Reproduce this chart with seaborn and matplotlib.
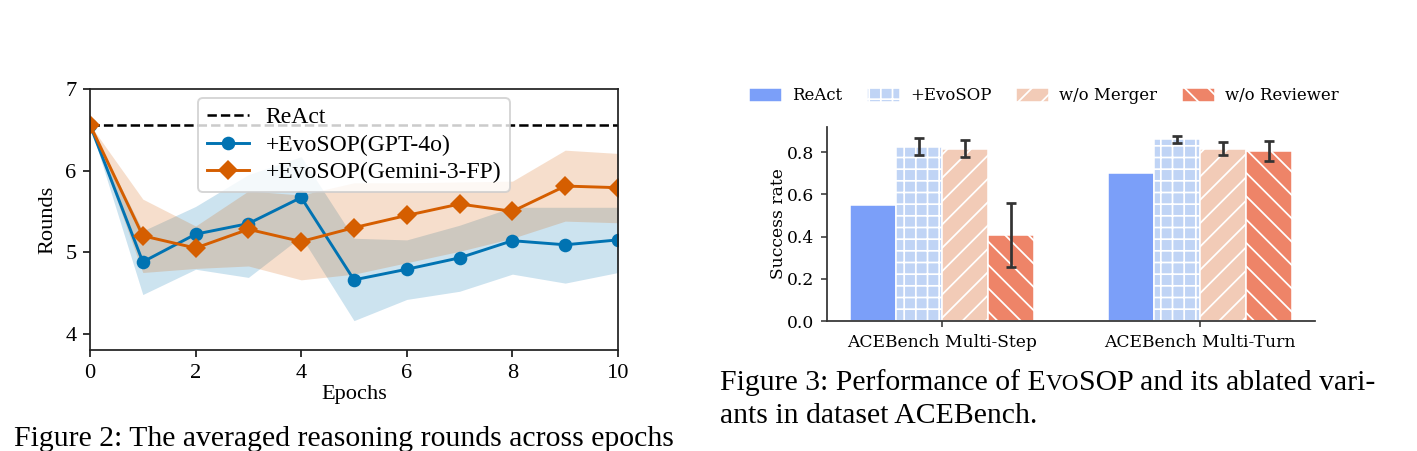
import numpy as np
import pandas as pd
import matplotlib
matplotlib.use("Agg")
import matplotlib.pyplot as plt
import seaborn as sns

# ---------------- data: Figure 2 (left) ----------------
epochs = [0, 1, 2, 3, 4, 5, 6, 7, 8, 9, 10]
react_rounds = 6.56
gpt_mean = [6.56, 4.88, 5.22, 5.35, 5.67, 4.66, 4.79, 4.93, 5.14, 5.09, 5.15]
gpt_low = [6.56, 4.48, 4.79, 4.69, 5.19, 4.16, 4.42, 4.52, 4.73, 4.62, 4.75]
gpt_high = [6.56, 5.26, 5.56, 5.95, 6.17, 5.17, 5.15, 5.33, 5.55, 5.55, 5.55]
gem_mean = [6.56, 5.20, 5.05, 5.28, 5.13, 5.30, 5.45, 5.59, 5.50, 5.81, 5.79]
gem_low = [6.56, 4.75, 4.80, 4.83, 4.66, 4.73, 4.87, 5.01, 5.17, 5.38, 5.36]
gem_high = [6.56, 5.65, 5.32, 5.75, 5.70, 5.85, 5.85, 5.86, 5.87, 6.25, 6.21]
series_names = ["+EvoSOP(GPT-4o)", "+EvoSOP(Gemini-3-FP)"]

# ---------------- data: Figure 3 (right) ----------------
datasets = ["ACEBench Multi-Step", "ACEBench Multi-Turn"]
methods = ["ReAct", "+EvoSOP", "w/o Merger", "w/o Reviewer"]
react_vals = [0.55, 0.70]
evosop_vals = [0.827, 0.861]
merger_vals = [0.818, 0.818]
reviewer_vals = [0.408, 0.805]
react_err = [0.0, 0.0]
evosop_err = [0.041, 0.016]
merger_err = [0.041, 0.029]
reviewer_err = [0.150, 0.047]

DPI = 140
fig = plt.figure(figsize=(1417 / DPI, 451 / DPI), dpi=DPI)
plt.rcParams["hatch.linewidth"] = 0.9

# ================= left chart =================
serif_l = ["Liberation Serif", "DejaVu Serif"]
fs_l = 11.5
axL = fig.add_axes([90 / 1417, 1 - 350 / 451, 528 / 1417, 261 / 451])
blue = "#0173b2"
orange = "#d55e00"

axL.fill_between(epochs, gpt_low, gpt_high, color=blue, alpha=0.2, linewidth=0)
axL.fill_between(epochs, gem_low, gem_high, color=orange, alpha=0.2, linewidth=0)
axL.axhline(react_rounds, color="black", linestyle="--", linewidth=1.3, label="ReAct")

df_l = pd.DataFrame({
    "Epochs": epochs * 2,
    "Rounds": gpt_mean + gem_mean,
    "model": [series_names[0]] * len(epochs) + [series_names[1]] * len(epochs),
})
sns.lineplot(data=df_l, x="Epochs", y="Rounds", hue="model", style="model",
             hue_order=series_names, style_order=series_names,
             palette=[blue, orange], markers=["o", "D"], dashes=False,
             markersize=7, markeredgewidth=0, linewidth=1.5, ax=axL)
axL.set_xlim(0, 10)
axL.set_ylim(3.8, 7.0)
axL.set_xticks([0, 2, 4, 6, 8, 10])
axL.set_yticks([4, 5, 6, 7])
axL.set_xlabel("Epochs", fontsize=fs_l, family=serif_l, labelpad=1)
axL.set_ylabel("Rounds", fontsize=fs_l, family=serif_l, labelpad=4)
for lab in axL.get_xticklabels() + axL.get_yticklabels():
    lab.set_family(serif_l)
    lab.set_fontsize(fs_l)
for s in axL.spines.values():
    s.set_color("#222222")
    s.set_linewidth(0.9)
h, l = axL.get_legend_handles_labels()
order = [l.index("ReAct")] + [l.index(n) for n in series_names]
legL = axL.legend([h[i] for i in order], [l[i] for i in order], loc="upper center",
                  bbox_to_anchor=(0.5, 1.0),
                  prop={"family": serif_l, "size": 12.2}, handlelength=1.8,
                  handletextpad=0.7, labelspacing=0.25, borderpad=0.35,
                  borderaxespad=0.4, framealpha=0.8)

# ================= right chart =================
serif_r = ["DejaVu Serif"]
fs_r = 8.8
axR = fig.add_axes([827 / 1417, 1 - 321 / 451, 488 / 1417, 194 / 451])
df_r = pd.DataFrame({
    "dataset": datasets * 4,
    "method": [m for m in methods for _ in datasets],
    "value": react_vals + evosop_vals + merger_vals + reviewer_vals,
})
errs = [react_err, evosop_err, merger_err, reviewer_err]
hatches = ["", "++", "//", "\\\\"]
sns.barplot(data=df_r, x="dataset", y="value", hue="method", hue_order=methods,
            order=datasets, palette="coolwarm", saturation=1, width=0.71,
            errorbar=None, legend=False, ax=axR)
bar_containers = list(axR.containers)
handles = []
for ci, cont in enumerate(bar_containers):
    for j, bar in enumerate(cont.patches):
        bar.set_hatch(hatches[ci])
        bar.set_edgecolor("white")
        bar.set_linewidth(0.8)
        e = errs[ci][j]
        if e > 0:
            axR.errorbar(bar.get_x() + bar.get_width() / 2, bar.get_height(), yerr=e,
                         fmt="none", ecolor="#333333", elinewidth=1.4, capsize=2.5,
                         capthick=1.4, zorder=5)
    handles.append(cont.patches[0])
axR.set_xlim(-0.446, 1.446)
axR.set_ylim(0, 0.92)
axR.set_yticks([0.0, 0.2, 0.4, 0.6, 0.8])
axR.set_yticklabels(["0.0", "0.2", "0.4", "0.6", "0.8"])
axR.set_xlabel("")
axR.set_ylabel("Success rate", fontsize=fs_r, family=serif_r, labelpad=0)
for lab in axR.get_xticklabels() + axR.get_yticklabels():
    lab.set_family(serif_r)
    lab.set_fontsize(fs_r)
axR.tick_params(axis="both", colors="#333333", labelcolor="black", length=3)
for side in ["top", "right"]:
    axR.spines[side].set_visible(False)
for side in ["left", "bottom"]:
    axR.spines[side].set_color("#333333")
    axR.spines[side].set_linewidth(0.9)
axR.legend(handles, methods, loc="center", bbox_to_anchor=(0.444, 1.16), ncol=4,
           frameon=False, prop={"family": serif_r, "size": 8.5},
           handlelength=2.0, handleheight=0.9, handletextpad=0.6, columnspacing=1.5)

# ================= captions =================
cap_font = ["Liberation Serif"]
cap_fs = 15.3
last = None


def caption_line(pieces, x_px, base_px):
    global last
    first = True
    for txt, scale in pieces:
        if first:
            last = fig.text(x_px / 1417, 1 - base_px / 451, txt, family=cap_font,
                            fontsize=cap_fs * scale, ha="left", va="baseline")
            first = False
        else:
            last = axL.annotate(txt, xy=(1, 1 - base_px / 451),
                                xycoords=(last, "figure fraction"),
                                family=cap_font, fontsize=cap_fs * scale,
                                ha="left", va="baseline", annotation_clip=False)


caption_line([("Figure 2: The averaged reasoning rounds across epochs", 1.0)], 14, 446)
caption_line([("Figure 3: Performance of E", 1.0), ("VO", 0.78),
              ("SOP and its ablated vari-", 1.0)], 720, 390)
caption_line([("ants in dataset ACEBench.", 1.0)], 720, 423)

fig.savefig("out.png", dpi=DPI)
